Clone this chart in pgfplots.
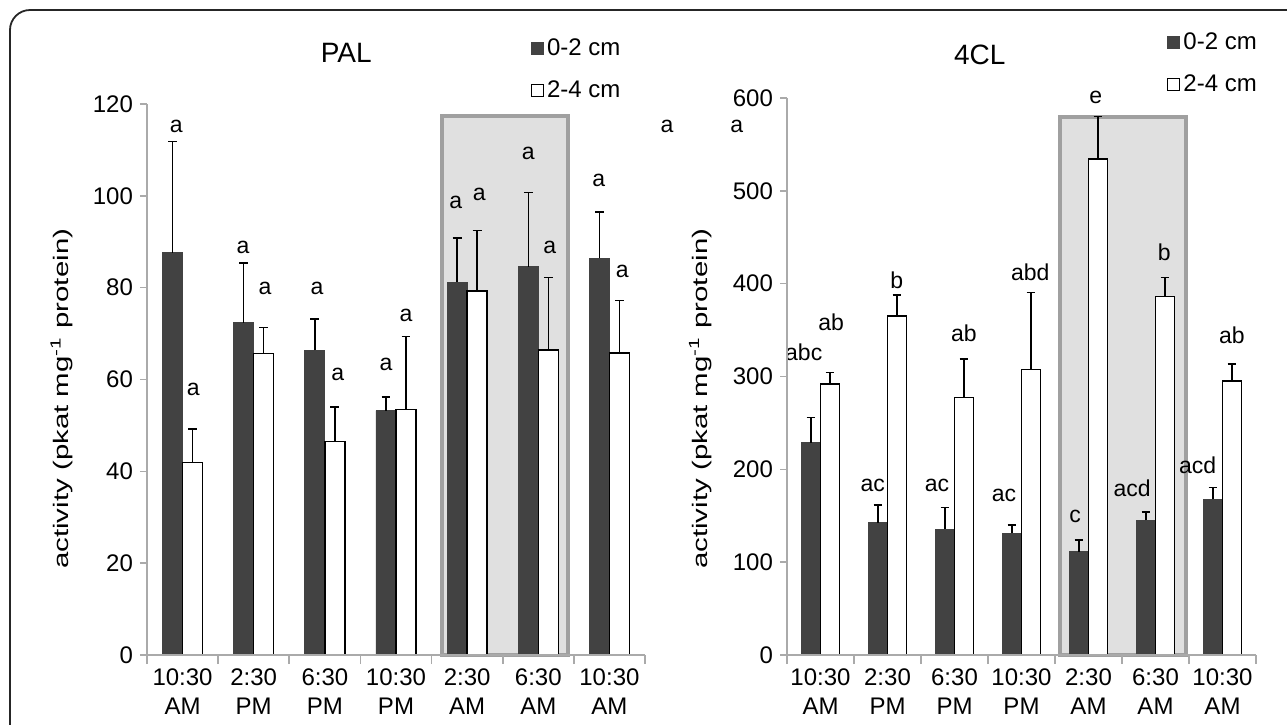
\documentclass[border=0pt]{standalone}
\usepackage{fontspec}
\setmainfont{Liberation Sans}
\usepackage{pgfplots}
\pgfplotsset{compat=1.18}

\definecolor{darkbar}{RGB}{66,66,66}
\definecolor{axisgray}{RGB}{170,170,170}
\definecolor{boxfill}{RGB}{224,224,224}
\definecolor{boxedge}{RGB}{160,160,160}

\tikzset{lab/.style={font=\fontsize{11.5}{13}\selectfont, inner sep=0pt, anchor=center}}

\pgfplotsset{
  panel/.style={
    scale only axis, ybar, bar width=10pt, clip=false, axis on top,
    axis x line=bottom, axis y line=left,
    axis line style={-, axisgray, line width=0.8pt},
    xmin=-0.5, xmax=6.5, ymin=0,
    xtick={0,...,6},
    xticklabels={{10:30\\AM},{2:30\\PM},{6:30\\PM},{10:30\\PM},{2:30\\AM},{6:30\\AM},{10:30\\AM}},
    xticklabel style={align=center, font=\fontsize{12}{14.5}\selectfont},
    major x tick style={draw=none},
    minor xtick={-0.5,0.5,...,6.5},
    minor x tick style={axisgray, line width=0.8pt},
    minor tick length=4.5pt, major tick length=3.5pt,
    tick align=outside,
    y tick style={axisgray, line width=0.8pt},
    yticklabel style={font=\fontsize{12}{14}\selectfont},
    /pgf/number format/assume math mode=true,
    ylabel={activity (pkat mg\textsuperscript{-1} protein)},
    legend image code/.code={\draw[#1, line width=0.6pt] (0pt,-3pt) rectangle (6pt,3pt);},
    legend cell align=left,
    legend style={draw=none, fill=none, anchor=north west, inner sep=0pt,
      font=\fontsize{12}{14}\selectfont, row sep=8pt,
      nodes={inner sep=1.5pt}},
    error bars/error bar style={black, line width=0.65pt},
    error bars/error mark options={rotate=90, black, mark size=2.2pt, line width=0.65pt},
  },
}

\begin{document}
\begin{tikzpicture}
\useasboundingbox (0,0) rectangle (643.5pt,-362pt);
\begin{scope}
  \clip (0,0) rectangle (643.5pt,-362pt);
  \draw[line width=0.9pt, black!85, rounded corners=10pt] (5pt,-5pt) rectangle (680pt,-400pt);
\end{scope}

% ---------------- PAL ----------------
\begin{axis}[panel,
  at={(73.5pt,-327.5pt)}, anchor=south west,
  width=249pt, height=275.5pt,
  ymax=120, ytick={0,20,...,120},
  ylabel style={font=\fontsize{10.5}{12}\selectfont, xscale=1.4,
    at={(axis description cs:-0.171,0.465)}, anchor=center},
  legend style={at={(axis description cs:0.77,1.125)}},
]
\draw[draw=boxedge, line width=2pt, fill=boxfill] (axis cs:3.65,0) rectangle (axis cs:5.42,117.4);

\addplot[fill=darkbar, draw=darkbar, bar shift=-5pt,
  error bars/.cd, y dir=plus, y explicit] coordinates {
  (0,87.6) +- (0,24.2)
  (1,72.4) +- (0,13.0)
  (2,66.4) +- (0,6.8)
  (3,53.2) +- (0,3.0)
  (4,81.2) +- (0,9.6)
  (5,84.6) +- (0,16.1)
  (6,86.4) +- (0,10.1)
};
\addlegendentry{0-2 cm}
\addplot[fill=white, draw=black, line width=0.65pt, bar shift=5pt,
  error bars/.cd, y dir=plus, y explicit] coordinates {
  (0,42.0) +- (0,7.2)
  (1,65.7) +- (0,5.7)
  (2,46.5) +- (0,7.5)
  (3,53.4) +- (0,15.9)
  (4,79.3) +- (0,13.1)
  (5,66.4) +- (0,15.8)
  (6,65.8) +- (0,11.4)
};
\addlegendentry{2-4 cm}

\node[font=\fontsize{14}{16}\selectfont] at (axis description cs:0.40,1.0925) {PAL};

\node[lab] at (axis cs:-0.09,115.2) {a};
\node[lab] at (axis cs:0.15,57.9) {a};
\node[lab] at (axis cs:0.85,88.8) {a};
\node[lab] at (axis cs:1.16,79.9) {a};
\node[lab] at (axis cs:1.89,79.9) {a};
\node[lab] at (axis cs:2.18,61.0) {a};
\node[lab] at (axis cs:2.86,63.2) {a};
\node[lab] at (axis cs:3.14,74.0) {a};
\node[lab] at (axis cs:3.84,98.6) {a};
\node[lab] at (axis cs:4.17,100.2) {a};
\node[lab] at (axis cs:4.86,109.3) {a};
\node[lab] at (axis cs:5.16,88.8) {a};
\node[lab] at (axis cs:5.85,103.4) {a};
\node[lab] at (axis cs:6.18,83.6) {a};
\node[lab] at (axis cs:6.81,115.2) {a};
\node[lab] at (axis cs:7.79,115.2) {a};
\end{axis}

% ---------------- 4CL ----------------
\begin{axis}[panel,
  at={(393.5pt,-327.5pt)}, anchor=south west,
  width=234.5pt, height=278.5pt, bar width=9.5pt,
  ymax=600, ytick={0,100,...,600},
  ylabel style={font=\fontsize{10.5}{12}\selectfont, xscale=1.4,
    at={(axis description cs:-0.185,0.46)}, anchor=center},
  legend style={at={(axis description cs:0.81,1.123)}},
]
\draw[draw=boxedge, line width=2pt, fill=boxfill] (axis cs:3.57,0) rectangle (axis cs:5.46,580);

\addplot[fill=darkbar, draw=darkbar, bar shift=-4.75pt,
  error bars/.cd, y dir=plus, y explicit] coordinates {
  (0,228.7) +- (0,26.9)
  (1,142.5) +- (0,19.1)
  (2,135.7) +- (0,23.3)
  (3,131.0) +- (0,9.0)
  (4,111.3) +- (0,12.6)
  (5,145.4) +- (0,8.6)
  (6,167.7) +- (0,12.5)
};
\addlegendentry{0-2 cm}
\addplot[fill=white, draw=black, line width=0.65pt, bar shift=4.75pt,
  error bars/.cd, y dir=plus, y explicit] coordinates {
  (0,291.9) +- (0,12.1)
  (1,365.2) +- (0,22.6)
  (2,277.6) +- (0,41.4)
  (3,307.8) +- (0,82.9)
  (4,534.3) +- (0,45.6)
  (5,386.0) +- (0,20.4)
  (6,295.2) +- (0,18.3)
};
\addlegendentry{2-4 cm}

\node[font=\fontsize{14}{16}\selectfont] at (axis description cs:0.411,1.077) {4CL};

\node[lab] at (axis cs:-0.25,326.4) {abc};
\node[lab] at (axis cs:0.16,358.7) {ab};
\node[lab] at (axis cs:0.78,183.1) {ac};
\node[lab] at (axis cs:1.14,404.0) {b};
\node[lab] at (axis cs:1.74,183.1) {ac};
\node[lab] at (axis cs:2.14,346.9) {ab};
\node[lab] at (axis cs:2.74,172.4) {ac};
\node[lab] at (axis cs:3.13,412.6) {abd};
\node[lab] at (axis cs:3.80,149.7) {c};
\node[lab] at (axis cs:4.11,601.0) {e};
\node[lab] at (axis cs:4.65,179.9) {acd};
\node[lab] at (axis cs:5.13,434.1) {b};
\node[lab] at (axis cs:5.63,204.7) {acd};
\node[lab] at (axis cs:6.14,344.7) {ab};
\end{axis}
\end{tikzpicture}
\end{document}
